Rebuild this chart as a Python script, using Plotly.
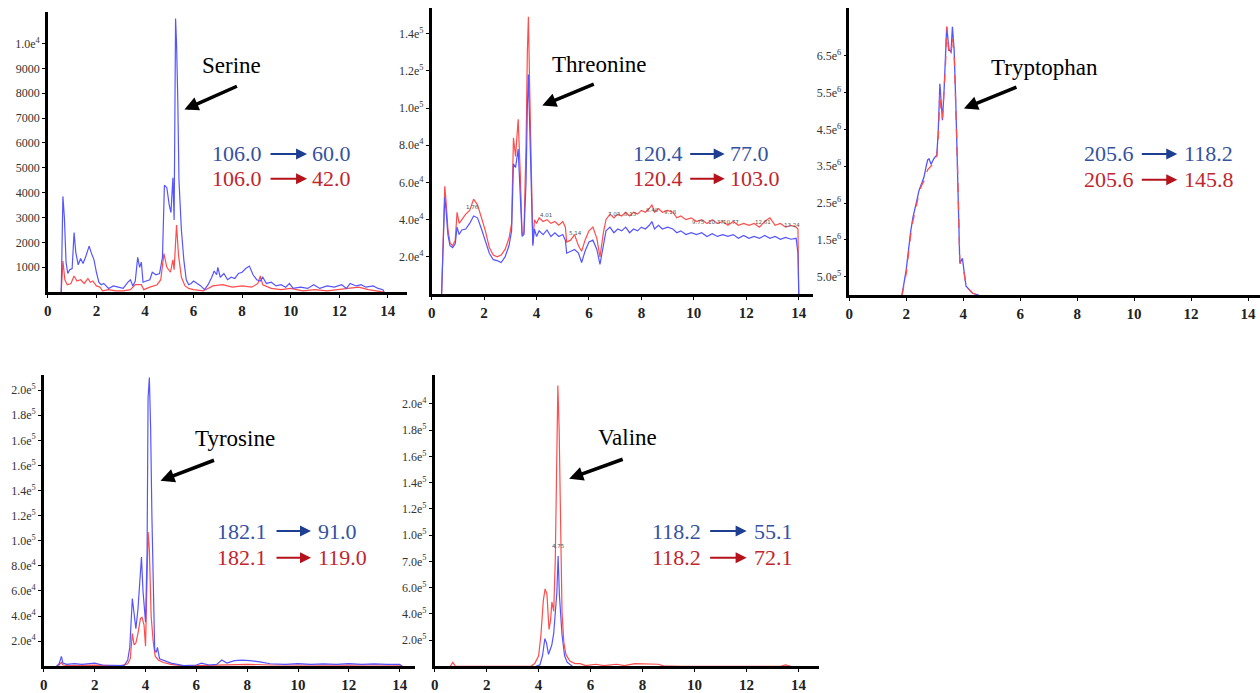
import plotly.graph_objects as go

W, H = 1260, 693

BLUE = '#5555ff'
RED = '#ff4c4c'
TXT_BLUE = '#34529f'
TXT_RED = '#c0262d'
ARR_BLUE = '#1e3f91'
ARR_RED = '#b5121b'
SERIF = 'Liberation Serif, Times New Roman, serif'

# ---- data (time in min, intensity) ----
ser_blue_t = [0.55, 0.58, 0.62, 0.68, 0.75, 0.82, 0.9, 1.0, 1.08, 1.15, 1.25, 1.35, 1.45, 1.55, 1.7, 1.8, 1.9, 2.0,
              2.1, 2.2, 2.3, 2.5, 2.7, 2.9, 3.1, 3.3, 3.4, 3.5, 3.6, 3.7, 3.78, 3.85, 3.92, 4.05, 4.2, 4.3, 4.45,
              4.6, 4.72, 4.8, 4.9, 5.0, 5.07, 5.15, 5.2, 5.26, 5.3, 5.35, 5.4, 5.5, 5.6, 5.7, 5.8, 5.9, 6.0, 6.15,
              6.3, 6.45, 6.6, 6.75, 6.85, 6.95, 7.0, 7.1, 7.25, 7.4, 7.55, 7.7, 7.85, 8.0, 8.15, 8.3, 8.45, 8.6,
              8.75, 8.85, 9.0, 9.2, 9.4, 9.6, 9.8, 9.95, 10.1, 10.4, 10.7, 10.95, 11.2, 11.5, 11.8, 12.1, 12.3,
              12.45, 12.7, 12.9, 13.1, 13.4, 13.6, 13.8, 13.85]
ser_blue_y = [0, 2500, 3850, 3000, 1200, 750, 900, 950, 2400, 1600, 1100, 1350, 1150, 1400, 1850, 1550, 1300, 800,
              400, 300, 350, 150, 250, 200, 150, 400, 500, 250, 450, 1400, 1000, 1200, 400, 450, 500, 800, 700,
              750, 1400, 4300, 4200, 3500, 3200, 4600, 2900, 11000, 10000, 7800, 4500, 2500, 1300, 500, 300, 350,
              450, 350, 250, 100, 300, 600, 850, 700, 1000, 600, 750, 500, 600, 550, 750, 800, 950, 1050, 700, 500,
              450, 600, 350, 400, 250, 300, 200, 350, 150, 200, 150, 300, 150, 250, 200, 300, 150, 350, 250, 300,
              200, 250, 150, 100, 0]
ser_red_t = [0.55, 0.58, 0.62, 0.7, 0.8, 0.95, 1.08, 1.2, 1.35, 1.5, 1.65, 1.75, 1.85, 2.0, 2.15, 2.25, 2.5, 2.8,
             3.1, 3.4, 3.6, 3.85, 3.95, 4.2, 4.5, 4.65, 4.78, 4.9, 5.05, 5.15, 5.2, 5.3, 5.38, 5.5, 5.65, 5.8, 6.0,
             6.4, 6.8, 7.2, 7.6, 8.0, 8.4, 8.65, 8.75, 8.85, 9.2, 9.6, 10.0, 10.5, 11.0, 11.5, 12.0, 12.5, 12.8,
             13.2, 13.6, 13.85]
ser_red_y = [0, 900, 1250, 500, 300, 350, 650, 450, 500, 350, 550, 400, 450, 250, 200, 50, 100, 50, 50, 100, 300,
             300, 100, 200, 300, 500, 1550, 1000, 800, 1300, 900, 2700, 1500, 600, 250, 150, 100, 50, 250, 300, 200,
             250, 200, 350, 650, 300, 150, 100, 150, 50, 100, 50, 100, 150, 200, 100, 50, 0]

thr_t = [0.38, 0.45, 0.5, 0.55, 0.62, 0.7, 0.8, 0.9, 0.97, 1.05, 1.15, 1.3, 1.45, 1.6, 1.75, 1.9, 2.05, 2.2, 2.35,
         2.5, 2.65, 2.8, 2.95, 3.05, 3.12, 3.2, 3.3, 3.38, 3.45, 3.52, 3.6, 3.65, 3.69, 3.74, 3.8, 3.86, 3.92, 4.0,
         4.1, 4.25, 4.4, 4.55, 4.7, 4.85, 5.0, 5.1, 5.15, 5.3, 5.45, 5.6, 5.72, 5.85, 6.0, 6.15, 6.3, 6.42, 6.55,
         6.65, 6.8, 6.95, 7.1, 7.25, 7.4, 7.55, 7.7, 7.85, 8.0, 8.15, 8.3, 8.4, 8.5, 8.65, 8.8, 9.0, 9.2, 9.35,
         9.5, 9.7, 9.9, 10.1, 10.3, 10.5, 10.7, 10.9, 11.1, 11.3, 11.5, 11.7, 11.9, 12.1, 12.3, 12.5, 12.7, 12.9,
         13.1, 13.3, 13.5, 13.7, 13.9, 13.97, 14.0]
thr_blue_y = [0, 30000, 52000, 45000, 32000, 26000, 25000, 27000, 36000, 32000, 34500, 35000, 38000, 42000, 41000,
              35000, 29000, 22000, 18500, 18000, 17000, 20000, 26000, 34000, 70000, 68000, 78000, 55000, 31000,
              32000, 60000, 100000, 118000, 90000, 60000, 26000, 35000, 31000, 34000, 32000, 34500, 31000, 33000,
              31000, 32000, 29000, 22000, 23000, 24000, 22000, 17000, 23000, 28000, 29000, 24000, 16000, 26000,
              34000, 36000, 33000, 35000, 34000, 36000, 33000, 35000, 34000, 36000, 35000, 37000, 39000, 35000,
              37000, 35000, 36000, 35000, 33000, 34000, 32000, 33000, 32000, 33000, 31000, 32500, 31000, 32000,
              31000, 32000, 30000, 31500, 30000, 31000, 30000, 31500, 30000, 31000, 29500, 30500, 29500, 30000,
              22000, 0]
thr_red_y = [0, 40000, 58000, 50000, 35000, 27500, 26000, 29000, 44000, 38000, 40000, 43000, 45000, 51000, 48000,
             41000, 34000, 25000, 21000, 20000, 21000, 24000, 30000, 38000, 84000, 74000, 94000, 65000, 32000,
             33000, 80000, 130000, 149000, 110000, 65000, 27000, 40000, 38000, 41000, 39000, 40000, 38000, 39000,
             37000, 39000, 36000, 28000, 29000, 32000, 26000, 23000, 29000, 34000, 36000, 30000, 20000, 33000,
             40000, 43000, 41000, 43000, 42000, 44000, 42000, 44000, 43000, 45000, 44000, 46000, 48000, 44000,
             46000, 44000, 45000, 44000, 41000, 42000, 40000, 41000, 39000, 40000, 38000, 40000, 38000, 39000,
             37000, 39000, 37000, 38000, 37000, 38000, 36000, 39000, 41000, 37000, 38000, 36000, 37000, 36000,
             35000, 0]
# retention-time labels printed on the threonine trace, and where they sit (x, y in data units)
thr_peak_lbl = ['1.76', '4.01', '5.14', '7.03', '8.13', '8.40', '9.18', '9.75', '10.37', '10.77', '12.61', '13.24']
thr_peak_x = [1.25, 4.05, 5.15, 6.65, 7.25, 8.1, 8.8, 9.85, 10.45, 11.05, 12.25, 13.35]
thr_peak_y = [47000, 42500, 33000, 43000, 43000, 45000, 44000, 39000, 38500, 38500, 38500, 37000]

trp_blue_t = [1.85, 2.0, 2.15, 2.23, 2.35, 2.45, 2.55, 2.62, 2.7, 2.75, 2.8, 2.87, 2.93, 2.98, 3.07, 3.12, 3.18,
              3.23, 3.27, 3.33, 3.38, 3.42, 3.5, 3.57, 3.62, 3.68, 3.74, 3.8, 3.88, 3.97, 4.03, 4.1, 4.33, 4.55]
trp_blue_y = [0, 0.7e6, 1.7e6, 2.1e6, 2.5e6, 2.85e6, 3.05e6, 3.2e6, 3.5e6, 3.67e6, 3.7e6, 3.55e6, 3.65e6, 3.72e6,
              3.8e6, 4.4e6, 5.74e6, 5.0e6, 4.75e6, 5.6e6, 6.4e6, 7.29e6, 6.67e6, 6.6e6, 7.29e6, 6.67e6, 5.2e6,
              3.55e6, 0.86e6, 1.0e6, 0.7e6, 0.24e6, 0.05e6, 0]
trp_red_t = [1.85, 2.0, 2.15, 2.23, 2.35, 2.45, 2.55, 2.62, 2.75, 2.87, 2.98, 3.07, 3.12, 3.18, 3.23, 3.27, 3.33,
             3.38, 3.42, 3.5, 3.57, 3.62, 3.68, 3.74, 3.8, 3.88, 3.97, 4.03, 4.1, 4.33, 4.55]
trp_red_y = [0, 0.6e6, 1.6e6, 2.0e6, 2.4e6, 2.8e6, 3.0e6, 3.1e6, 3.4e6, 3.5e6, 3.6e6, 3.75e6, 4.2e6, 5.5e6, 4.9e6,
             4.8e6, 5.5e6, 6.3e6, 7.29e6, 6.5e6, 6.5e6, 7.0e6, 6.6e6, 5.2e6, 3.5e6, 0.9e6, 0.8e6, 0.6e6, 0.24e6,
             0.05e6, 0]

tyr_blue_t = [0.5, 0.6, 0.69, 0.75, 0.9, 1.2, 1.5, 1.8, 2.0, 2.3, 2.8, 3.16, 3.3, 3.38, 3.48, 3.55, 3.62, 3.7,
              3.77, 3.84, 3.9, 3.96, 4.0, 4.06, 4.1, 4.15, 4.2, 4.25, 4.3, 4.36, 4.42, 4.47, 4.55, 4.7, 5.0, 5.5,
              6.0, 6.2, 6.5, 6.8, 7.0, 7.2, 7.5, 7.8, 8.1, 8.5, 8.9, 9.5, 10.0, 10.5, 11.0, 11.5, 12.0, 12.5, 13.0,
              13.5, 14.0, 14.1]
tyr_blue_y = [0, 2000, 7900, 2500, 1500, 2000, 1500, 2000, 2400, 1000, 500, 500, 5000, 15000, 54000, 40000, 30000,
              45000, 67000, 87000, 60000, 43000, 35000, 90000, 214000, 230000, 190000, 120000, 57000, 13000, 11000,
              15000, 6000, 4700, 2500, 500, 1000, 2400, 1000, 1500, 5000, 2500, 4500, 4800, 4500, 3500, 2000, 1500,
              2000, 1500, 1800, 1500, 2000, 1500, 1800, 1500, 1500, 0]
tyr_red_t = [0.5, 0.6, 0.69, 0.75, 1.0, 2.0, 3.0, 3.3, 3.4, 3.48, 3.55, 3.62, 3.7, 3.8, 3.86, 3.94, 4.0, 4.06, 4.1,
             4.15, 4.22, 4.3, 4.38, 4.5, 4.7, 5.0, 5.5, 6.0, 7.0, 8.0, 9.0, 10.0, 11.0, 12.0, 13.0, 14.0, 14.1]
tyr_red_y = [0, 1000, 3100, 1000, 500, 800, 300, 2000, 6000, 26000, 17000, 18500, 26000, 38000, 39000, 33000, 16000,
             60000, 107000, 93000, 40000, 20000, 8000, 5000, 3000, 1500, 300, 500, 1000, 1500, 1000, 800, 1000, 800,
             1000, 800, 0]

val_red_t = [0.6, 0.7, 0.8, 3.7, 3.85, 4.0, 4.09, 4.18, 4.25, 4.32, 4.4, 4.46, 4.51, 4.58, 4.64, 4.69, 4.74, 4.79,
             4.83, 4.9, 4.97, 5.05, 5.2, 5.4, 5.6, 5.8, 6.2, 6.5, 7.0, 7.3, 7.7, 8.2, 8.6, 8.8, 9.5, 13.3, 13.5, 13.7]
val_red_y = [0, 3000, 0, 0, 2000, 8000, 24000, 50000, 59000, 55000, 28000, 35000, 49000, 42000, 80000, 137000,
             214000, 180000, 120000, 41000, 18000, 9000, 4000, 2000, 2000, 500, 1500, 500, 1500, 500, 2000, 2000,
             1500, 300, 0, 0, 1000, 0]
val_blue_t = [3.9, 4.05, 4.15, 4.24, 4.3, 4.38, 4.45, 4.51, 4.58, 4.65, 4.7, 4.75, 4.8, 4.9, 5.0, 5.1, 5.3]
val_blue_y = [0, 1000, 8000, 21000, 18000, 9000, 13000, 16500, 25000, 45000, 56000, 84000, 54000, 24000, 8000, 3000,
              0]

x_ticks = [0, 2, 4, 6, 8, 10, 12, 14]
ser_ticks = [1000, 2000, 3000, 4000, 5000, 6000, 7000, 8000, 9000, 10000]
ser_labels = ['1000', '2000', '3000', '4000', '5000', '6000', '7000', '8000', '9000', '1.0e<sup>4</sup>']
thr_ticks = [20000, 40000, 60000, 80000, 100000, 120000, 140000]
thr_labels = ['2.0e<sup>4</sup>', '4.0e<sup>4</sup>', '6.0e<sup>4</sup>', '8.0e<sup>4</sup>',
              '1.0e<sup>5</sup>', '1.2e<sup>5</sup>', '1.4e<sup>5</sup>']
trp_ticks = [0.5e6, 1.5e6, 2.5e6, 3.5e6, 4.5e6, 5.5e6, 6.5e6]
trp_labels = ['5.0e<sup>5</sup>', '1.5e<sup>6</sup>', '2.5e<sup>6</sup>', '3.5e<sup>6</sup>',
              '4.5e<sup>6</sup>', '5.5e<sup>6</sup>', '6.5e<sup>6</sup>']
tyr_ticks = [20000 * k for k in range(1, 12)]
tyr_labels = ['2.0e<sup>4</sup>', '4.0e<sup>4</sup>', '6.0e<sup>4</sup>', '8.0e<sup>4</sup>', '1.0e<sup>5</sup>',
              '1.2e<sup>5</sup>', '1.4e<sup>5</sup>', '1.6e<sup>5</sup>', '1.6e<sup>5</sup>', '1.8e<sup>5</sup>',
              '2.0e<sup>5</sup>']
val_ticks = [20000 * k for k in range(1, 11)]
val_labels = ['2.0e<sup>5</sup>', '4.0e<sup>5</sup>', '6.0e<sup>5</sup>', '7.0e<sup>5</sup>', '1.0e<sup>5</sup>',
              '1.2e<sup>5</sup>', '1.4e<sup>5</sup>', '1.6e<sup>5</sup>', '1.8e<sup>5</sup>', '2.0e<sup>4</sup>']

names = ['Serine', 'Threonine', 'Tryptophan', 'Tyrosine', 'Valine']
parent = ['106.0', '120.4', '205.6', '182.1', '118.2']
frag_blue = ['60.0', '77.0', '118.2', '91.0', '55.1']
frag_red = ['42.0', '103.0', '145.8', '119.0', '72.1']


def fx(px):
    return px / W


def fy(py):
    return 1 - py / H


# pixel boxes of the five plot areas: left, right, top, bottom, xmax, ymax
boxes = [
    (44, 404, 12, 296, 14.78, 11270),
    (429, 812, 8, 298, 14.56, 153800),
    (848, 1260, 8, 299, 14.42, 7.8e6),
    (40, 412, 380, 675, 14.59, 232000),
    (432, 818, 380, 675, 14.8, 222000),
]
yticks = [(ser_ticks, ser_labels), (thr_ticks, thr_labels), (trp_ticks, trp_labels),
          (tyr_ticks, tyr_labels), (val_ticks, val_labels)]

traces = [
    (ser_blue_t, ser_blue_y, ser_red_t, ser_red_y),
    (thr_t, thr_blue_y, thr_t, thr_red_y),
    (trp_blue_t, trp_blue_y, trp_red_t, trp_red_y),
    (tyr_blue_t, tyr_blue_y, tyr_red_t, tyr_red_y),
    (val_blue_t, val_blue_y, val_red_t, val_red_y),
]

fig = go.Figure()
layout = {}
for i, (l, r, t, b, xmax, ymax) in enumerate(boxes):
    n = '' if i == 0 else str(i + 1)
    xa, ya = 'x' + n, 'y' + n
    bt, by, rt, ry = traces[i]
    if i == 2:
        # tryptophan: red drawn dashed over the blue, as in the original
        fig.add_trace(go.Scatter(x=bt, y=by, xaxis=xa, yaxis=ya, mode='lines',
                                 line=dict(color=BLUE, width=1.3), showlegend=False))
        fig.add_trace(go.Scatter(x=rt, y=ry, xaxis=xa, yaxis=ya, mode='lines',
                                 line=dict(color=RED, width=1.3, dash='dash'), showlegend=False))
    elif i == 4:
        fig.add_trace(go.Scatter(x=bt, y=by, xaxis=xa, yaxis=ya, mode='lines',
                                 line=dict(color=BLUE, width=1.2), showlegend=False))
        fig.add_trace(go.Scatter(x=rt, y=ry, xaxis=xa, yaxis=ya, mode='lines',
                                 line=dict(color=RED, width=1.2), showlegend=False))
    else:
        fig.add_trace(go.Scatter(x=rt, y=ry, xaxis=xa, yaxis=ya, mode='lines',
                                 line=dict(color=RED, width=1.2), showlegend=False))
        fig.add_trace(go.Scatter(x=bt, y=by, xaxis=xa, yaxis=ya, mode='lines',
                                 line=dict(color=BLUE, width=1.2), showlegend=False))

    tv, tt = yticks[i]
    layout['xaxis' + n] = dict(domain=[fx(l), fx(r)], range=[0, xmax], anchor=ya,
                               showline=True, linecolor='black', linewidth=2.5, showgrid=False, zeroline=False,
                               tickvals=x_ticks, ticks='outside', ticklen=3, tickcolor='black',
                               tickfont=dict(family=SERIF, size=15, color='#222', weight='bold'))
    layout['yaxis' + n] = dict(domain=[fy(b), fy(t)], range=[0, ymax], anchor=xa,
                               showline=True, linecolor='black', linewidth=2.5, showgrid=False, zeroline=False,
                               tickvals=tv, ticktext=tt, ticks='outside', ticklen=3, tickcolor='black',
                               tickfont=dict(family=SERIF, size=12, color='#333'))

# ---- annotations (pixel positions) ----
ann = []
name_pos = [(228, 66), (597, 65), (1044, 68), (232, 444), (625, 443)]
arrow_head = [(181, 111), (540, 107), (963, 110), (157, 487), (567, 485)]
arrow_tail = [(235, 87), (593, 85), (1017, 88), (212, 466), (622, 465)]
row_y = [(156, 181), (156, 181), (156, 182), (538, 565), (538, 565)]
left_x = [234, 656, 1109, 239, 675]
arr_x = [(266, 304), (687, 723), (1140, 1177), (272, 308), (707, 745)]
right_x = [307, 726, 1182, 313, 750]

for i in range(5):
    ann.append(dict(x=fx(name_pos[i][0]), y=fy(name_pos[i][1]), xref='paper', yref='paper', text=names[i],
                    xanchor='center', yanchor='middle', showarrow=False,
                    font=dict(family=SERIF, size=23, color='black')))
    hx, hy = arrow_head[i]
    tx, ty = arrow_tail[i]
    ann.append(dict(x=fx(hx), y=fy(hy), xref='paper', yref='paper', text='', showarrow=True,
                    ax=tx - hx, ay=ty - hy, arrowhead=2, arrowsize=0.8, arrowwidth=3.5, arrowcolor='black'))
    for j, (tc, ac, frag) in enumerate([(TXT_BLUE, ARR_BLUE, frag_blue[i]), (TXT_RED, ARR_RED, frag_red[i])]):
        yy = row_y[i][j]
        ann.append(dict(x=fx(left_x[i]), y=fy(yy), xref='paper', yref='paper', text=parent[i],
                        xanchor='center', yanchor='middle', showarrow=False,
                        font=dict(family=SERIF, size=22, color=tc)))
        ann.append(dict(x=fx(right_x[i]), y=fy(yy), xref='paper', yref='paper', text=frag,
                        xanchor='left', yanchor='middle', showarrow=False,
                        font=dict(family=SERIF, size=22, color=tc)))
        a0, a1 = arr_x[i]
        ann.append(dict(x=fx(a1), y=fy(yy), xref='paper', yref='paper', text='', showarrow=True,
                        ax=a0 - a1, ay=0, arrowhead=2, arrowsize=1.1, arrowwidth=2, arrowcolor=ac))

# small retention-time labels on threonine and valine
for lbl, px_, py_ in zip(thr_peak_lbl, thr_peak_x, thr_peak_y):
    ann.append(dict(x=px_, y=py_, xref='x2', yref='y2', text=lbl, showarrow=False,
                    xanchor='left', yanchor='middle',
                    font=dict(family='DejaVu Sans', size=5.5, color='#555')))
ann.append(dict(x=4.75, y=92000, xref='x5', yref='y5', text='4.75', showarrow=False,
                xanchor='center', yanchor='middle',
                font=dict(family='DejaVu Sans', size=5.5, color='#555')))

fig.update_layout(width=W, height=H, margin=dict(l=0, r=0, t=0, b=0),
                  paper_bgcolor='white', plot_bgcolor='white', showlegend=False,
                  annotations=ann, **layout)

fig.write_html("out.html", config={'displayModeBar': False},
               post_script="document.body.style.margin='0';")
